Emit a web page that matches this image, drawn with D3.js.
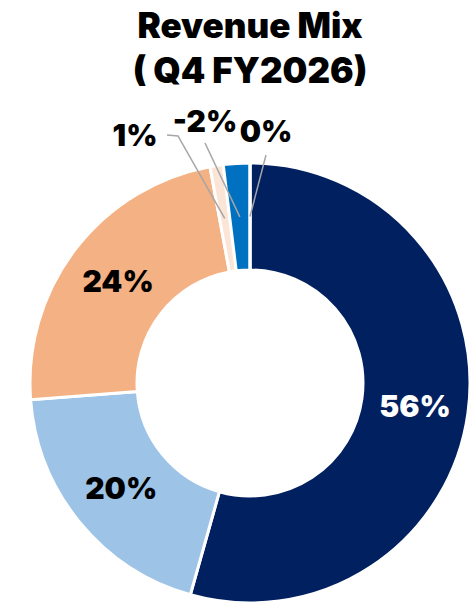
<!DOCTYPE html>
<html>
<head>
<meta charset="utf-8">
<script src="https://cdn.jsdelivr.net/npm/d3@7/dist/d3.min.js"></script>
<style>
  html, body { margin: 0; padding: 0; background: #ffffff; }
  svg { display: block; }
</style>
</head>
<body>
<script>
// ---- data ----
const categories = ["Segment A", "Segment B", "Segment C", "Segment D", "Segment E", "Segment F"];
const values = [56, 20, 24, 1, -2, 0];
const colors = ["#002060", "#9DC3E6", "#F4B183", "#FBE5D6", "#0070C0", "#DEEBF7"];
const titleLines = ["Revenue Mix", "( Q4 FY2026)"];

// ---- layout ----
const W = 472, H = 603;
const cx = 250, cy = 383, outerR = 220, innerR = 113;
const labelColors = ["#ffffff", "#000000", "#000000", "#000000", "#000000", "#000000"];
const outside = {
  3: { lx: -115, ly: -248, path: [[-83, -248], [-72, -247]] },
  4: { lx: -45, ly: -262, path: [[-45, -240]] },
  5: { lx: 16, ly: -252, path: [[16, -228]] }
};

const svg = d3.select("body").append("svg").attr("width", W).attr("height", H);

const font = "Inter, 'Open Sans', sans-serif";

svg.append("g").selectAll("text").data(titleLines).join("text")
  .attr("x", cx).attr("y", (d, i) => 38 + i * 45)
  .attr("text-anchor", "middle")
  .attr("font-family", font).attr("font-weight", 900).attr("font-size", 35)
  .attr("fill", "#000").text(d => d);

const data = categories.map((c, i) => ({ cat: c, value: values[i], i }));

const pie = d3.pie().sort(null).value(d => Math.abs(d.value));
const arcs = pie(data);
const arc = d3.arc().innerRadius(innerR).outerRadius(outerR);
const mid = d3.arc().innerRadius((innerR + outerR) / 2).outerRadius((innerR + outerR) / 2);

const g = svg.append("g").attr("transform", `translate(${cx},${cy})`);

g.selectAll("path.slice").data(arcs).join("path")
  .attr("class", "slice")
  .attr("d", arc)
  .attr("fill", d => colors[d.data.i])
  .attr("stroke", "#ffffff").attr("stroke-width", 3).attr("stroke-linejoin", "miter");

const fmt = v => String(v) + "%";

g.selectAll("text.inlabel").data(arcs.filter(d => !outside[d.data.i])).join("text")
  .attr("class", "inlabel")
  .attr("x", d => mid.centroid(d)[0])
  .attr("y", d => mid.centroid(d)[1])
  .attr("dy", "0.36em")
  .attr("text-anchor", "middle")
  .attr("font-family", font).attr("font-weight", 900).attr("font-size", 30)
  .attr("fill", d => labelColors[d.data.i])
  .text(d => fmt(d.data.value));

const outs = arcs.filter(d => outside[d.data.i]);
g.selectAll("polyline.leader").data(outs).join("polyline")
  .attr("class", "leader")
  .attr("points", d => {
    const o = outside[d.data.i];
    const c = mid.centroid(d);
    return o.path.concat([c]).map(p => p.join(",")).join(" ");
  })
  .attr("fill", "none").attr("stroke", "#A6A6A6").attr("stroke-width", 1.5);

g.selectAll("text.outlabel").data(outs).join("text")
  .attr("class", "outlabel")
  .attr("x", d => outside[d.data.i].lx)
  .attr("y", d => outside[d.data.i].ly)
  .attr("dy", "0.36em")
  .attr("text-anchor", "middle")
  .attr("font-family", font).attr("font-weight", 900).attr("font-size", 30)
  .attr("fill", "#000")
  .text(d => fmt(d.data.value));
</script>
</body>
</html>
